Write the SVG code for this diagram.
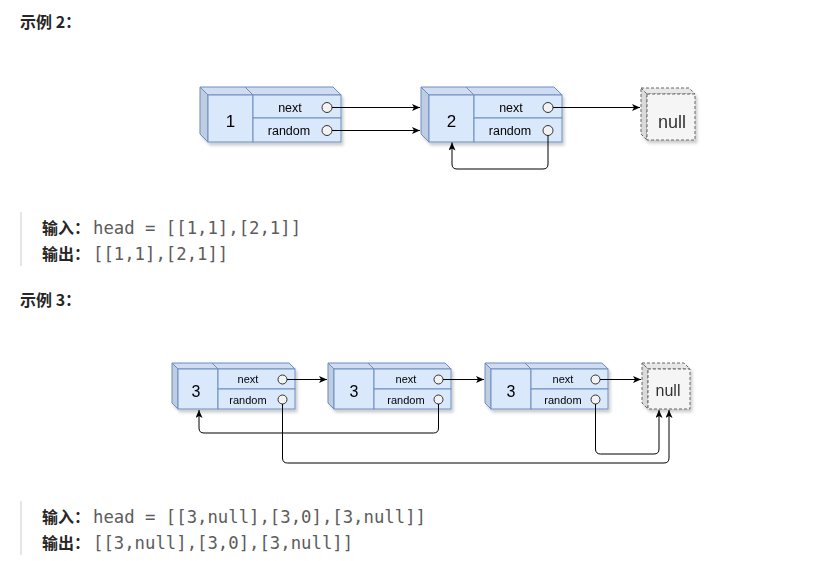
<svg xmlns="http://www.w3.org/2000/svg" width="827" height="561" viewBox="0 0 827 561">
<defs>
<style>
.bg{fill:#ffffff}
.front{fill:#dae8fc;stroke:#6c8ebf;stroke-width:1}
.left{fill:#bfcde3;stroke:#6c8ebf;stroke-width:1}
.top{fill:#cfdcf1;stroke:#6c8ebf;stroke-width:1}
.nfront{fill:#f5f5f5;stroke:#666;stroke-width:1;stroke-dasharray:3 2}
.nleft{fill:#dadada;stroke:#666;stroke-width:1;stroke-dasharray:3 2}
.ntop{fill:#e8e8e8;stroke:#666;stroke-width:1;stroke-dasharray:3 2}
.circ{fill:#f2f2f2;stroke:#333;stroke-width:1}
.edge{fill:none;stroke:#000;stroke-width:1}
.val{font-family:"Liberation Sans",Arial,sans-serif;fill:#000;text-anchor:middle}
.fld{font-family:"Liberation Sans",Arial,sans-serif;fill:#000;text-anchor:middle}
.nul{font-family:"Liberation Sans",Arial,sans-serif;fill:#333;text-anchor:middle}
.h{font-family:"Noto Sans CJK SC","Noto Sans",sans-serif;font-weight:bold;font-size:16px;fill:#262626}
.mono{font-family:"DejaVu Sans Mono","Liberation Mono",monospace;font-size:17.3px;fill:#5c5c5c}
.bar{fill:#e6e6e6}
</style>
<marker id="arr" markerUnits="userSpaceOnUse" markerWidth="10" markerHeight="10" refX="8" refY="3.5" orient="auto">
<path d="M0,0 L8,3.5 L0,7 L2,3.5 Z" fill="#000"/>
</marker>
<filter id="sh" x="-10%" y="-10%" width="130%" height="140%">
<feDropShadow dx="2" dy="3" stdDeviation="1.5" flood-color="#000" flood-opacity="0.2"/>
</filter>
</defs>
<rect class="bg" x="0" y="0" width="827" height="561"/>

<text class="h" x="20" y="28">示例 2：</text>

<g id="ex2-node1" filter="url(#sh)">
<path class="left" d="M200,87 L208,95 V142 L200,134 Z"/>
<path class="top" d="M200,87 H245 L253,95 H208 Z"/>
<rect class="front" x="208" y="95" width="45" height="47"/>
<path class="top" d="M245,87 H333 L341,95 H253 Z"/>
<rect class="front" x="253" y="95" width="88" height="23"/>
<rect class="front" x="253" y="118" width="88" height="24"/>
<text class="val" x="230.5" y="127" font-size="17">1</text>
<text class="fld" x="290" y="111.5" font-size="12.5">next</text>
<text class="fld" x="289" y="135" font-size="12.5">random</text>
<circle class="circ" cx="327" cy="107.5" r="5"/>
<circle class="circ" cx="327" cy="130.5" r="5"/>
</g>

<g id="ex2-node2" filter="url(#sh)">
<path class="left" d="M421,87 L429,95 V142 L421,134 Z"/>
<path class="top" d="M421,87 H466 L474,95 H429 Z"/>
<rect class="front" x="429" y="95" width="45" height="47"/>
<path class="top" d="M466,87 H554 L562,95 H474 Z"/>
<rect class="front" x="474" y="95" width="88" height="23"/>
<rect class="front" x="474" y="118" width="88" height="24"/>
<text class="val" x="451.5" y="127" font-size="17">2</text>
<text class="fld" x="511" y="111.5" font-size="12.5">next</text>
<text class="fld" x="510" y="135" font-size="12.5">random</text>
<circle class="circ" cx="548" cy="107.5" r="5"/>
<circle class="circ" cx="548" cy="130.5" r="5"/>
</g>

<g id="ex2-null" filter="url(#sh)">
<path class="nleft" d="M641,88 L647,94 V140 L641,134 Z"/>
<path class="ntop" d="M641,88 H689 L695,94 H647 Z"/>
<rect class="nfront" x="647" y="94" width="48" height="46"/>
<text class="nul" x="672" y="127.5" font-size="18">null</text>
</g>

<g id="ex2-connectors">
<path class="edge" d="M332,107.5 H420" marker-end="url(#arr)"/>
<path class="edge" d="M332,130.5 H420" marker-end="url(#arr)"/>
<path class="edge" d="M553,107.5 H640" marker-end="url(#arr)"/>
<path class="edge" d="M548,135.5 V164 Q548,169 543,169 H457 Q452,169 452,164 V142.5" marker-end="url(#arr)"/>
</g>

<g id="ex2-io">
<rect class="bar" x="20" y="212" width="2" height="54"/>
<text class="h" x="42" y="234">输入：</text>
<text class="mono" x="93" y="234">head = [[1,1],[2,1]]</text>
<text class="h" x="42" y="260">输出：</text>
<text class="mono" x="93" y="260">[[1,1],[2,1]]</text>
</g>

<text class="h" x="20" y="306">示例 3：</text>

<g id="ex3-nodeA" filter="url(#sh)">
<path class="left" d="M172,363 L178,369 V409 L172,403 Z"/>
<path class="top" d="M172,363 H212 L218,369 H178 Z"/>
<rect class="front" x="178" y="369" width="40" height="40"/>
<path class="top" d="M212,363 H289 L295,369 H218 Z"/>
<rect class="front" x="218" y="369" width="77" height="20"/>
<rect class="front" x="218" y="389" width="77" height="20"/>
<text class="val" x="196" y="396.5" font-size="16">3</text>
<text class="fld" x="248" y="383.3" font-size="11">next</text>
<text class="fld" x="248" y="403.5" font-size="11">random</text>
<circle class="circ" cx="282.5" cy="379.5" r="4.5"/>
<circle class="circ" cx="282.5" cy="399.5" r="4.5"/>
</g>

<g id="ex3-nodeB" filter="url(#sh)">
<path class="left" d="M328,363 L334,369 V409 L328,403 Z"/>
<path class="top" d="M328,363 H368 L374,369 H334 Z"/>
<rect class="front" x="334" y="369" width="40" height="40"/>
<path class="top" d="M368,363 H445 L451,369 H374 Z"/>
<rect class="front" x="374" y="369" width="77" height="20"/>
<rect class="front" x="374" y="389" width="77" height="20"/>
<text class="val" x="354" y="396.5" font-size="16">3</text>
<text class="fld" x="406" y="383.3" font-size="11">next</text>
<text class="fld" x="406" y="403.5" font-size="11">random</text>
<circle class="circ" cx="438.5" cy="379.5" r="4.5"/>
<circle class="circ" cx="438.5" cy="399.5" r="4.5"/>
</g>

<g id="ex3-nodeC" filter="url(#sh)">
<path class="left" d="M485,363 L491,369 V409 L485,403 Z"/>
<path class="top" d="M485,363 H525 L531,369 H491 Z"/>
<rect class="front" x="491" y="369" width="40" height="40"/>
<path class="top" d="M525,363 H602 L608,369 H531 Z"/>
<rect class="front" x="531" y="369" width="77" height="20"/>
<rect class="front" x="531" y="389" width="77" height="20"/>
<text class="val" x="511" y="396.5" font-size="16">3</text>
<text class="fld" x="563" y="383.3" font-size="11">next</text>
<text class="fld" x="563" y="403.5" font-size="11">random</text>
<circle class="circ" cx="595.5" cy="379.5" r="4.5"/>
<circle class="circ" cx="595.5" cy="399.5" r="4.5"/>
</g>

<g id="ex3-null" filter="url(#sh)">
<path class="nleft" d="M642,363 L648,369 V409 L642,403 Z"/>
<path class="ntop" d="M642,363 H684 L690,369 H648 Z"/>
<rect class="nfront" x="648" y="369" width="42" height="40"/>
<text class="nul" x="668" y="396" font-size="16">null</text>
</g>

<g id="ex3-connectors">
<path class="edge" d="M287,379.5 H327" marker-end="url(#arr)"/>
<path class="edge" d="M443,379.5 H484" marker-end="url(#arr)"/>
<path class="edge" d="M600,379.5 H641" marker-end="url(#arr)"/>
<path class="edge" d="M438.5,404 V428 Q438.5,433 433.5,433 H204 Q199,433 199,428 V410" marker-end="url(#arr)"/>
<path class="edge" d="M282.5,404 V458 Q282.5,463 287.5,463 H664 Q669,463 669,458 V410" marker-end="url(#arr)"/>
<path class="edge" d="M595.5,404 V449 Q595.5,454 600.5,454 H654 Q659,454 659,449 V410" marker-end="url(#arr)"/>
</g>

<g id="ex3-io">
<rect class="bar" x="20" y="501" width="2" height="54"/>
<text class="h" x="42" y="523">输入：</text>
<text class="mono" x="93" y="523">head = [[3,null],[3,0],[3,null]]</text>
<text class="h" x="42" y="549">输出：</text>
<text class="mono" x="93" y="549">[[3,null],[3,0],[3,null]]</text>
</g>
</svg>
